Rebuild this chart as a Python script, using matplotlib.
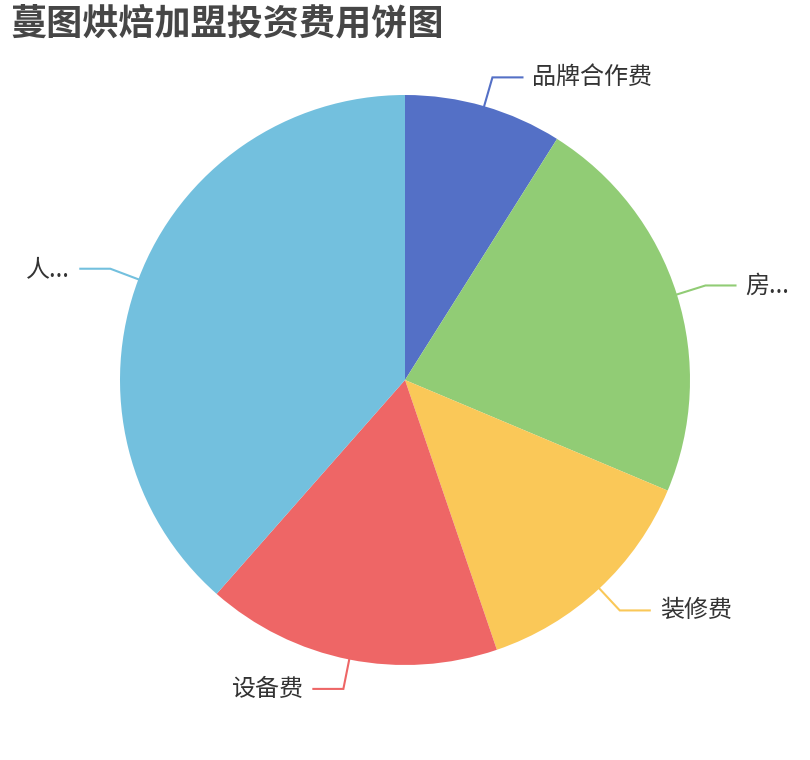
import numpy as np
import matplotlib
matplotlib.use("Agg")
import matplotlib.pyplot as plt

title = "蔓图烘焙加盟投资费用饼图"
labels = ["品牌合作费", "房...", "装修费", "设备费", "人..."]
values = [3.0, 7.5, 4.5, 5.6, 12.9]
colors = ["#5470c6", "#91cc75", "#fac858", "#ee6666", "#73c0de"]

plt.rcParams['font.family'] = ['Noto Sans CJK SC', 'DejaVu Sans']

W, H = 810, 760
fig = plt.figure(figsize=(W / 100, H / 100), dpi=100)
ax = fig.add_axes([0, 0, 1, 1])

cx, cy, R = 405, H - 380, 285
wedges, _ = ax.pie(values, colors=colors, startangle=90, counterclock=False,
                   center=(cx, cy), radius=R, frame=True,
                   wedgeprops=dict(linewidth=0))
ax.set_xlim(0, W)
ax.set_ylim(0, H)
ax.set_aspect('equal')
ax.axis('off')

L1, L2, gap = 30, 30, 10
for w, lab, col in zip(wedges, labels, colors):
    mid = np.deg2rad((w.theta1 + w.theta2) / 2)
    c, s = np.cos(mid), np.sin(mid)
    p0 = (cx + R * c, cy + R * s)
    p1 = (cx + (R + L1) * c, cy + (R + L1) * s)
    d = 1 if c >= 0 else -1
    p2 = (p1[0] + d * L2, p1[1])
    ax.plot([p0[0], p1[0], p2[0]], [p0[1], p1[1], p2[1]], color=col, lw=1.5,
            solid_joinstyle='miter')
    ax.text(p2[0] + d * gap, p2[1], lab, ha='left' if d > 0 else 'right',
            va='center', fontsize=17.3, color='#333333')

fig.text(10 / W, 1 - 24 / H, title, fontsize=26, fontweight='bold',
         color='#464646', ha='left', va='center')

fig.savefig("out.png", dpi=100, facecolor='white')
